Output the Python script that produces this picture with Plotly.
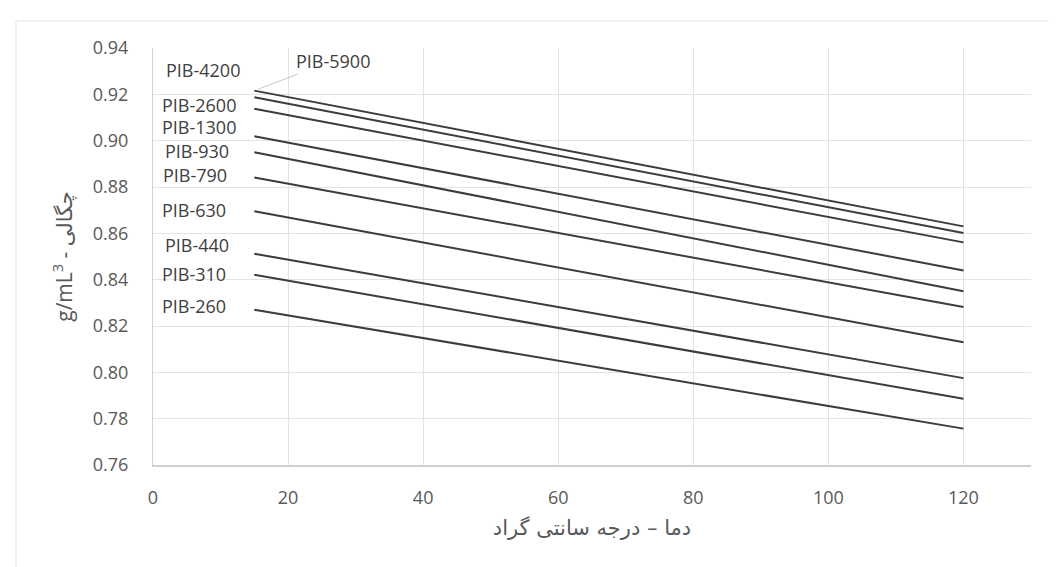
import plotly.graph_objects as go

# Data
temps = [15, 120]
series_names = ["PIB-5900", "PIB-4200", "PIB-2600", "PIB-1300", "PIB-930",
                "PIB-790", "PIB-630", "PIB-440", "PIB-310", "PIB-260"]
density_at_15 = [0.9216, 0.9187, 0.9138, 0.9019, 0.8950,
                 0.8841, 0.8695, 0.8512, 0.8421, 0.8270]
density_at_120 = [0.8630, 0.8601, 0.8561, 0.8440, 0.8350,
                  0.8282, 0.8130, 0.7975, 0.7886, 0.7757]
x_ticks = [0, 20, 40, 60, 80, 100, 120]
y_ticks = [0.76, 0.78, 0.80, 0.82, 0.84, 0.86, 0.88, 0.90, 0.92, 0.94]

# Label placement styling (pixel offsets)
label_yshift = [0, 27, 4, 9, 1, 2.5, 1, 9, 1, 4]
label_xshift = [0, -51, -55, -55, -57, -59, -60, -57, -60, -60]

FONT = "Open Sans, DejaVu Sans, sans-serif"
LINE_COLOR = "#3c3c3c"

fig = go.Figure()
for name, y0, y1 in zip(series_names, density_at_15, density_at_120):
    fig.add_trace(go.Scatter(x=temps, y=[y0, y1], mode="lines", name=name,
                             line=dict(color=LINE_COLOR, width=2),
                             showlegend=False))

annotations = []
for i, (name, y0) in enumerate(zip(series_names, density_at_15)):
    if i == 0:
        annotations.append(dict(x=temps[0], y=y0, xref="x", yref="y",
                                text=name, showarrow=True, arrowhead=0,
                                arrowwidth=1, arrowcolor="#c8c8c8",
                                ax=79, ay=-30, standoff=4,
                                font=dict(family=FONT, size=18, color="#404040")))
    else:
        annotations.append(dict(x=temps[0], y=y0, xref="x", yref="y",
                                text=name, showarrow=False,
                                xanchor="center", yanchor="middle",
                                xshift=label_xshift[i], yshift=label_yshift[i],
                                font=dict(family=FONT, size=18, color="#404040")))

fig.update_layout(
    width=1057, height=567,
    margin=dict(l=145, r=34, t=40, b=110),
    paper_bgcolor="white", plot_bgcolor="white",
    font=dict(family=FONT, color="#595959"),
    annotations=annotations,
    xaxis=dict(range=[0, 130], tickvals=x_ticks, showgrid=True,
               gridcolor="#e3e3e3", gridwidth=1, zeroline=False,
               showline=True, linecolor="#d0d0d0", linewidth=1.5,
               ticks="", tickfont=dict(size=18, color="#595959"),
               ticklabelstandoff=16,
               title=dict(text="دما – درجه سانتی گراد", standoff=12,
                          font=dict(family="DejaVu Sans, sans-serif", size=21, color="#595959"))),
    yaxis=dict(range=[0.76, 0.94], tickvals=y_ticks, tickformat=".2f",
               showgrid=True, gridcolor="#e3e3e3", gridwidth=1, zeroline=False,
               showline=True, linecolor="#d0d0d0", linewidth=1,
               ticks="", tickfont=dict(size=18, color="#595959"),
               ticklabelstandoff=20,
               title=dict(text="g/mL<sup>3</sup> - چگالی", standoff=14,
                          font=dict(family=FONT, size=21, color="#595959"))),
    shapes=[
        dict(type="line", xref="paper", yref="paper",
             x0=(8 - 145) / 878, x1=1.05, y0=(457 - 13) / 417, y1=(457 - 13) / 417,
             line=dict(color="#ececec", width=1.5)),
        dict(type="line", xref="paper", yref="paper",
             x0=(8 - 145) / 878, x1=(8 - 145) / 878, y0=(457 - 13) / 417, y1=(457 - 567) / 417,
             line=dict(color="#ececec", width=1.5)),
    ],
)

fig.write_html("out.html")
